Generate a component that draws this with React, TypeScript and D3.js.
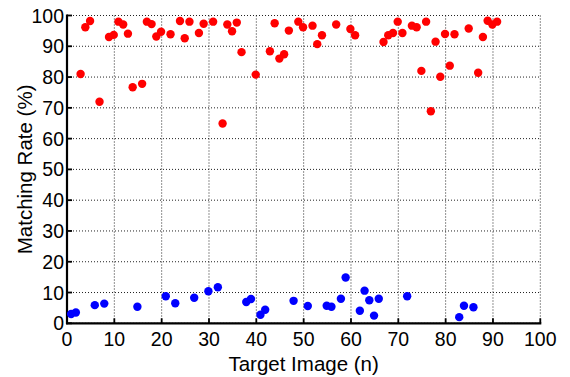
import React from "react";
import * as d3 from "d3";

const redX = [3, 4, 5, 7, 9, 10, 11, 12, 13, 14, 16, 17, 18, 19, 20, 22, 24, 25, 26, 28, 29, 31, 33, 34, 35, 36, 37, 40, 43, 44, 45, 46, 47, 49, 50, 52, 53, 54, 57, 60, 61, 67, 68, 69, 70, 71, 73, 74, 75, 76, 77, 78, 79, 80, 81, 82, 85, 87, 88, 89, 90, 91];
const redY = [81.0, 96.2, 98.2, 72.0, 93.0, 93.7, 98.0, 97.1, 94.1, 76.7, 77.8, 98.0, 97.2, 93.2, 94.7, 93.9, 98.2, 92.6, 98.0, 94.3, 97.3, 98.0, 64.9, 97.1, 94.9, 97.7, 88.1, 80.8, 88.4, 97.5, 86.0, 87.4, 95.1, 98.0, 96.2, 96.7, 90.7, 93.6, 97.1, 95.6, 93.6, 91.4, 93.6, 94.3, 98.0, 94.3, 96.7, 96.2, 82.0, 98.0, 68.9, 91.5, 80.1, 94.0, 83.7, 93.9, 95.8, 81.4, 93.0, 98.3, 97.1, 98.0];
const blueX = [1, 2, 6, 8, 15, 21, 23, 27, 30, 32, 38, 39, 41, 42, 48, 51, 55, 56, 58, 59, 62, 63, 64, 65, 66, 72, 83, 84, 86];
const blueY = [3.0, 3.5, 5.9, 6.4, 5.4, 8.8, 6.5, 8.3, 10.4, 11.7, 6.9, 7.9, 2.8, 4.4, 7.3, 5.6, 5.7, 5.4, 8.0, 14.9, 4.1, 10.6, 7.5, 2.5, 8.0, 8.8, 2.0, 5.7, 5.2];
const xTicks = [0, 10, 20, 30, 40, 50, 60, 70, 80, 90, 100];
const yTicks = [0, 10, 20, 30, 40, 50, 60, 70, 80, 90, 100];
const xLabel = "Target Image (n)";
const yLabel = "Matching Rate (%)";

const W = 570;
const H = 377;
const left = 67;
const right = 540.3;
const top = 15.5;
const bottom = 323.3;
const font = "'Liberation Sans', Arial, sans-serif";

export default function App() {
  const x = d3.scaleLinear().domain([0, 100]).range([left, right]);
  const y = d3.scaleLinear().domain([0, 100]).range([bottom, top]);
  const dash = "1,2";
  return (
    <div style={{ position: "absolute", left: 0, top: 0 }}>
      <svg width={W} height={H} style={{ display: "block", background: "#fff" }}>
        {/* grid */}
        {xTicks.map((t) => (
          <line key={"gx" + t} x1={x(t)} x2={x(t)} y1={top} y2={bottom} stroke="#222" strokeWidth={1} strokeDasharray={dash} />
        ))}
        {yTicks.map((t) => (
          <line key={"gy" + t} x1={left} x2={right} y1={y(t)} y2={y(t)} stroke="#222" strokeWidth={1} strokeDasharray={dash} />
        ))}
        {/* ticks */}
        {xTicks.map((t) => (
          <line key={"tx" + t} x1={x(t)} x2={x(t)} y1={bottom} y2={bottom - 5} stroke="#000" strokeWidth={1.8} />
        ))}
        {yTicks.map((t) => (
          <line key={"ty" + t} x1={left} x2={left + 5} y1={y(t)} y2={y(t)} stroke="#000" strokeWidth={1.8} />
        ))}
        {/* axes */}
        <line x1={left} x2={left} y1={top - 1} y2={bottom + 1} stroke="#000" strokeWidth={2.2} />
        <line x1={left - 1} x2={right + 1} y1={bottom} y2={bottom} stroke="#000" strokeWidth={2.2} />
        {/* points */}
        {redX.map((v, i) => (
          <circle key={"r" + i} cx={x(v) - 0.6} cy={y(redY[i])} r={4.2} fill="#ff0000" />
        ))}
        {blueX.map((v, i) => (
          <circle key={"b" + i} cx={x(v) - 0.6} cy={y(blueY[i])} r={4.2} fill="#0000ff" />
        ))}
        {/* tick labels */}
        {xTicks.map((t) => (
          <text key={"lx" + t} x={x(t)} y={346} textAnchor="middle" fontFamily={font} fontSize={19.5} fill="#000">
            {t}
          </text>
        ))}
        {yTicks.map((t) => (
          <text key={"ly" + t} x={64} y={y(t)} dy="0.36em" textAnchor="end" fontFamily={font} fontSize={19.5} fill="#000">
            {t}
          </text>
        ))}
        {/* axis titles */}
        <text x={(left + right) / 2} y={371} textAnchor="middle" fontFamily={font} fontSize={20.5} fill="#000">
          {xLabel}
        </text>
        <text transform={`translate(32,${(top + bottom) / 2}) rotate(-90)`} textAnchor="middle" fontFamily={font} fontSize={20.5} fill="#000">
          {yLabel}
        </text>
      </svg>
    </div>
  );
}
